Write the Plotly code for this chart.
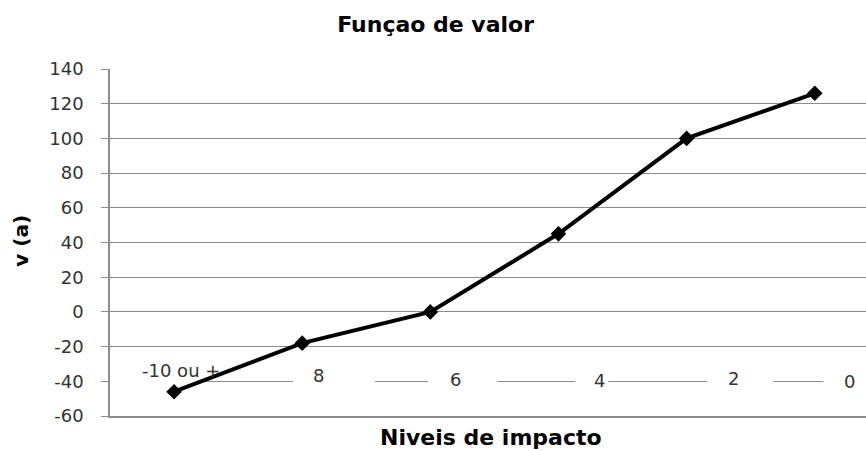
import plotly.graph_objects as go

# ---- data ----
categories = ["-10 ou +", "8", "6", "4", "2", "0"]
values = [-46, -18, 0, 45, 100, 126]
y_ticks = [-60, -40, -20, 0, 20, 40, 60, 80, 100, 120, 140]
y_tick_text = [str(v) for v in y_ticks]

chart_title = "Funçao de valor"
x_title = "Niveis de impacto"
y_title = "v (a)"

# ---- styling / placement (not data) ----
label_xshift = [7, 16, 25, 41, 47, 35]
label_yshift = [11, 6, 2, 1, 3, 0]
gap_spans = [(-0.5, 0.226), (0.929, 1.569), (1.982, 2.521),
             (3.13, 3.388), (4.16, 4.676), (5.066, 5.6)]
label_row = -40

GRID = "#8c8c8c"
FONT = "DejaVu Sans"

fig = go.Figure()
fig.add_trace(go.Scatter(
    x=categories, y=values, mode="lines+markers",
    line=dict(color="black", width=4),
    marker=dict(symbol="diamond", size=12, color="black"),
    showlegend=False, cliponaxis=False,
))

shapes = []
for x0, x1 in gap_spans:
    shapes.append(dict(type="rect", xref="x", yref="y", x0=x0, x1=x1,
                       y0=label_row - 3, y1=label_row + 3,
                       fillcolor="white", line=dict(width=0), layer="between"))

annotations = []
for i, (c, dx, dy) in enumerate(zip(categories, label_xshift, label_yshift)):
    annotations.append(dict(x=i, y=label_row, xref="x", yref="y", text=c,
                            showarrow=False, xshift=dx, yshift=dy,
                            font=dict(family=FONT, size=18, color="#333333")))
annotations.append(dict(x=0.504, y=-0.062, xref="paper", yref="paper",
                        text="<b>" + x_title + "</b>", showarrow=False,
                        xanchor="center", yanchor="middle",
                        font=dict(family=FONT, size=22, color="black")))
annotations.append(dict(x=-0.117, y=0.504, xref="paper", yref="paper",
                        text="<b>" + y_title + "</b>", showarrow=False,
                        textangle=-90, xanchor="center", yanchor="middle",
                        font=dict(family=FONT, size=20, color="black")))

fig.update_layout(
    width=866, height=451,
    margin=dict(l=110, r=0, t=69, b=35),
    paper_bgcolor="white", plot_bgcolor="white",
    title=dict(text="<b>" + chart_title + "</b>", x=0.503, xanchor="center",
               y=1 - 24 / 451, yanchor="middle", yref="container",
               font=dict(family=FONT, size=22, color="black")),
    shapes=shapes,
    annotations=annotations,
    xaxis=dict(type="category", range=[-0.5, 5.4], showticklabels=False,
               showgrid=False, zeroline=False, ticks="",
               showline=True, linecolor=GRID, linewidth=1.5),
    yaxis=dict(range=[-60, 140], tickvals=y_ticks, ticktext=y_tick_text,
               showgrid=True, gridcolor=GRID, gridwidth=1, zeroline=False,
               showline=True, linecolor=GRID, linewidth=1.5,
               ticks="outside", ticklen=7, tickcolor=GRID,
               ticklabelstandoff=14,
               tickfont=dict(family=FONT, size=18, color="#333333")),
)

fig.write_html("out.html",
               config={"displayModeBar": False},
               post_script="document.body.style.margin='0';"
                           "document.body.style.overflow='hidden';")
